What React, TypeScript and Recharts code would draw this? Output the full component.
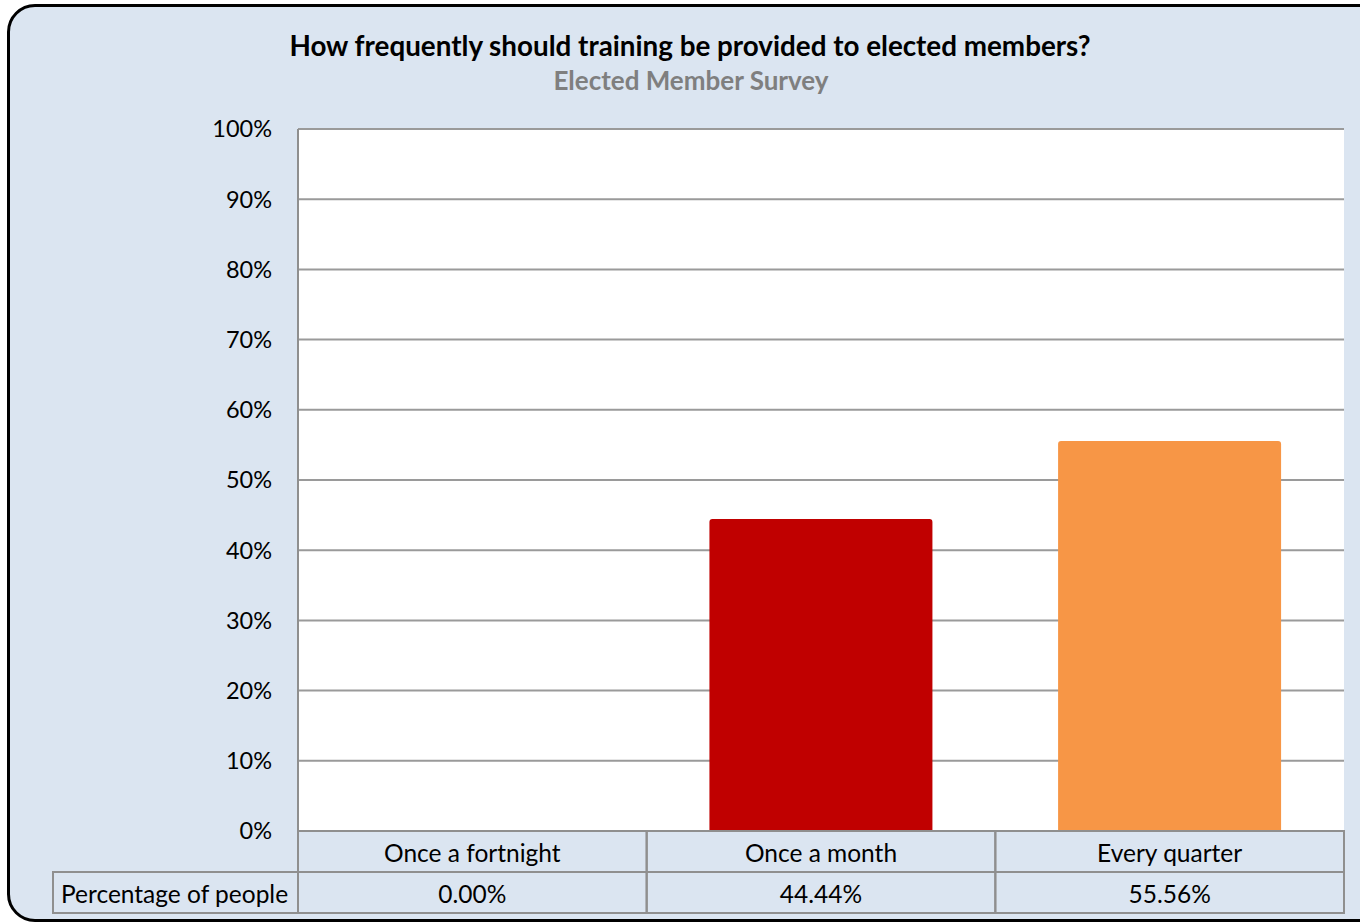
import React from "react";
import { BarChart, Bar, XAxis, YAxis, CartesianGrid, Cell } from "recharts";

const categories = ["Once a fortnight", "Once a month", "Every quarter"];
const percentValues = [0, 44.44, 55.56];
const barColors = ["#4F81BD", "#C00000", "#F79646"];
const yTicks = [0, 10, 20, 30, 40, 50, 60, 70, 80, 90, 100];
const seriesLabel = "Percentage of people";

const chartData = categories.map((name, i) => ({ name, value: percentValues[i] }));

const FONT = "Lato, 'Open Sans', sans-serif";
const LINE = "#8f8f8f";
const ROW_H = 41;
const TABLE_FONT = 24.5;

const TableTick = (props: any) => {
  const { x, y, payload, index } = props;
  const half = payload.offset || 174;
  const left = x - half;
  const value = percentValues[index];
  return (
    <g>
      <rect x={left} y={y} width={half * 2} height={ROW_H} fill="none" stroke={LINE} strokeWidth={2} />
      <text x={x} y={y + ROW_H / 2 + 1} textAnchor="middle" dominantBaseline="central" fontSize={TABLE_FONT} fontFamily={FONT} fill="#000">
        {payload.value}
      </text>
      <rect x={left} y={y + ROW_H} width={half * 2} height={ROW_H} fill="none" stroke={LINE} strokeWidth={2} />
      <text x={x} y={y + ROW_H * 1.5 + 1} textAnchor="middle" dominantBaseline="central" fontSize={TABLE_FONT} fontFamily={FONT} fill="#000">
        {value.toFixed(2) + "%"}
      </text>
      {index === 0 && (
        <g>
          <rect x={left - 245} y={y + ROW_H} width={245} height={ROW_H} fill="none" stroke={LINE} strokeWidth={2} />
          <text x={left - 237} y={y + ROW_H * 1.5 + 1} dominantBaseline="central" fontSize={TABLE_FONT} fontFamily={FONT} fill="#000">
            {seriesLabel}
          </text>
        </g>
      )}
    </g>
  );
};

const App: React.FC = () => {
  return (
    <div style={{ position: "absolute", left: 0, top: 0, width: 1360, height: 924, overflow: "hidden" }}>
      <div
        style={{
          position: "absolute",
          left: 7,
          top: 4,
          width: 1400,
          height: 912,
          border: "3px solid #000",
          borderRadius: 28,
          background: "#DBE5F1",
        }}
      />
      <div
        style={{
          position: "absolute",
          left: 0,
          width: 1380,
          top: 28,
          textAlign: "center",
          fontFamily: FONT,
          fontWeight: 700,
          fontSize: 27.8,
          color: "#000",
          lineHeight: "36px",
        }}
      >
        How frequently should training be provided to elected members?
      </div>
      <div
        style={{
          position: "absolute",
          left: 0,
          width: 1382,
          top: 63,
          textAlign: "center",
          fontFamily: FONT,
          fontWeight: 700,
          fontSize: 26,
          color: "#7f7f7f",
          lineHeight: "34px",
        }}
      >
        Elected Member Survey
      </div>
      <div style={{ position: "absolute", left: 0, top: 0 }}>
        <BarChart
          width={1360}
          height={924}
          data={chartData}
          margin={{ top: 129, right: 16, bottom: 11, left: 0 }}
          barCategoryGap="18%"
        >
          <CartesianGrid vertical={false} stroke="#9a9a9a" strokeWidth={2} fill="#ffffff" fillOpacity={1} />
          <XAxis
            dataKey="name"
            height={82}
            axisLine={false}
            tickLine={false}
            tickSize={0}
            tickMargin={0}
            interval={0}
            tick={<TableTick />}
          />
          <YAxis
            width={298}
            domain={[0, 100]}
            ticks={yTicks}
            tickFormatter={(v: number) => `${v}%`}
            axisLine={{ stroke: LINE, strokeWidth: 2 }}
            tickLine={false}
            tickSize={0}
            tickMargin={26}
            tick={{ fontSize: 23.5, fontFamily: FONT, fill: "#000" }}
          />
          <Bar dataKey="value" isAnimationActive={false} radius={[3, 3, 0, 0]}>
            {chartData.map((d, i) => (
              <Cell key={d.name} fill={barColors[i]} />
            ))}
          </Bar>
        </BarChart>
      </div>
    </div>
  );
};

export default App;
